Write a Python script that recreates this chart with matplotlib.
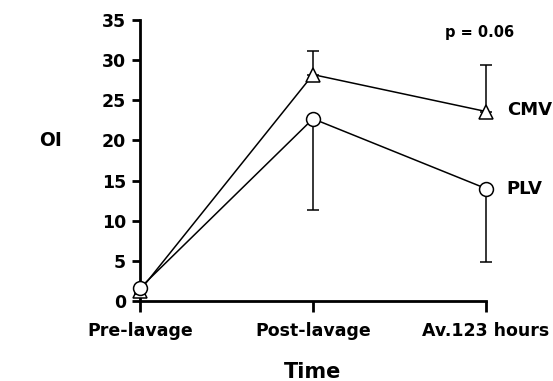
import matplotlib.pyplot as plt

categories = ["Pre-lavage", "Post-lavage", "Av.123 hours"]
cmv_mean = [1.3, 28.2, 23.6]
cmv_err_up = [0.0, 2.9, 5.8]
plv_mean = [1.6, 22.7, 14.0]
plv_err_down = [0.7, 11.4, 9.1]
yticks = [0, 5, 10, 15, 20, 25, 30, 35]

plt.rcParams["font.family"] = ["DejaVu Sans"]
plt.rcParams["font.weight"] = "bold"

fig = plt.figure(figsize=(5.53, 3.81), dpi=100)
ax = fig.add_axes([0.253, 0.21, 0.626, 0.7375])

x = list(range(len(categories)))

ax.errorbar(x, cmv_mean, yerr=[[0] * 3, cmv_err_up], color="black", lw=1.1,
            marker="^", markersize=10, markerfacecolor="white", markeredgecolor="black",
            markeredgewidth=1.1, capsize=4, elinewidth=1.1, capthick=1.1,
            clip_on=False, zorder=3)
ax.errorbar(x, plv_mean, yerr=[plv_err_down, [0] * 3], color="black", lw=1.1,
            marker="o", markersize=10, markerfacecolor="white", markeredgecolor="black",
            markeredgewidth=1.1, capsize=4, elinewidth=1.1, capthick=1.1,
            clip_on=False, zorder=4)

ax.set_xlim(0, 2)
ax.set_ylim(0, 35)
ax.set_xticks(x)
ax.set_xticklabels(categories, fontsize=12.5, fontweight="bold")
ax.set_yticks(yticks)
ax.set_yticklabels([str(t) for t in yticks], fontsize=12.5, fontweight="bold")
ax.tick_params(axis="y", direction="out", length=6, width=2, pad=4)
ax.tick_params(axis="x", direction="out", length=8, width=2, pad=7)

for side in ["top", "right"]:
    ax.spines[side].set_visible(False)
ax.spines["left"].set_linewidth(2)
ax.spines["bottom"].set_linewidth(2)

ax.set_xlabel("Time", fontsize=15, fontweight="bold", labelpad=16)
fig.text(0.092, 0.632, "OI", fontsize=13.5, fontweight="bold", ha="center", va="center")

ax.text(2.12, cmv_mean[2] + 0.2, "CMV", fontsize=13, fontweight="bold", va="center", ha="left")
ax.text(2.12, plv_mean[2], "PLV", fontsize=13, fontweight="bold", va="center", ha="left")
ax.text(1.96, 33.5, "p = 0.06", fontsize=10.5, fontweight="bold", va="center", ha="center")

fig.savefig("out.png", dpi=100)
